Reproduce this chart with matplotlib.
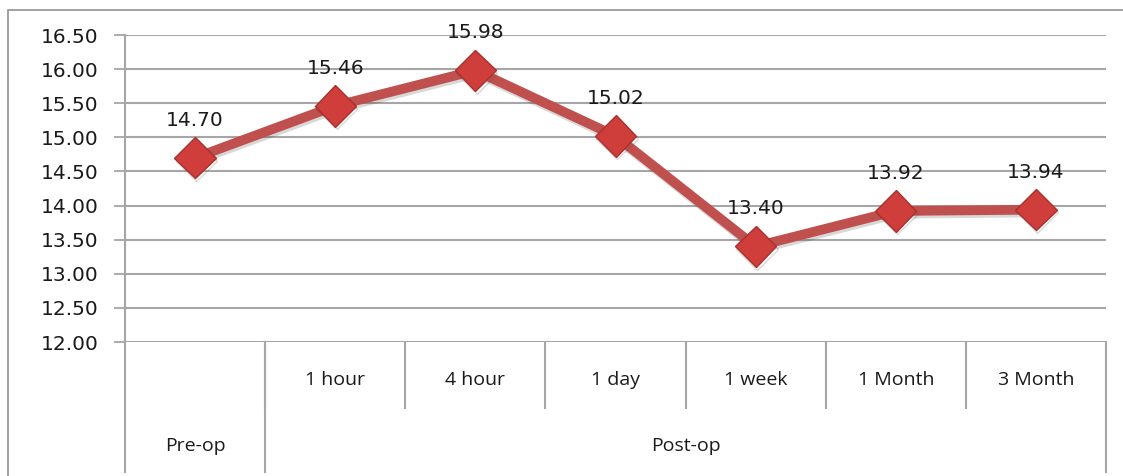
import matplotlib
matplotlib.use('Agg')
import matplotlib.pyplot as plt
import matplotlib.patheffects as pe
from matplotlib.patches import Rectangle

# data
periods = ['Pre-op', '1 hour', '4 hour', '1 day', '1 week', '1 Month', '3 Month']
groups = ['Pre-op', 'Post-op']
group_sizes = [1, 6]
values = [14.70, 15.46, 15.98, 15.02, 13.40, 13.92, 13.94]
yticks = [12.0, 12.5, 13.0, 13.5, 14.0, 14.5, 15.0, 15.5, 16.0, 16.5]

line_color = '#C0504D'
grid_color = '#A6A6A6'
text_color = '#1A1A1A'

fig = plt.figure(figsize=(11.23, 4.76), dpi=100)
ax = fig.add_axes([125 / 1123, (476 - 342) / 476, (1106 - 125) / 1123, (342 - 35) / 476])

# outer chart frame
fig.patches.append(Rectangle((8 / 1123, -0.1), 1.2, (476 - 10) / 476 + 0.1,
                             transform=fig.transFigure, fill=False,
                             edgecolor='#9A9A9A', linewidth=1.3))

x = list(range(len(values)))
ax.plot(x, values, color=line_color, linewidth=7.0, marker='D', markersize=21,
        markerfacecolor='#CF3E3B', markeredgecolor='#A8302D', markeredgewidth=1.0,
        solid_joinstyle='round', zorder=5,
        path_effects=[pe.SimpleLineShadow(offset=(1, -2), shadow_color='#404040', alpha=0.2),
                      pe.Normal()])

for xi, v in zip(x, values):
    ax.annotate(f'{v:.2f}', (xi, v), xytext=(0, 27), textcoords='offset points',
                ha='center', va='center', fontsize=14.5, color=text_color,
                family='DejaVu Sans', zorder=6)

ax.set_xlim(-0.5, len(values) - 0.5)
ax.set_ylim(12.0, 16.5)
ax.set_yticks(yticks)
ax.set_yticklabels([f'{t:.2f}' for t in yticks], fontsize=14.5, color=text_color)
ax.tick_params(axis='y', length=8, width=1.3, color=grid_color, pad=11)
ax.set_xticks([])
for t in yticks:
    ax.axhline(t, color=grid_color, linewidth=1.5, zorder=1)

for side in ['top', 'right', 'bottom']:
    ax.spines[side].set_visible(False)
ax.spines['left'].set_color(grid_color)
ax.spines['left'].set_linewidth(1.5)

# two-level category axis below the plot
row1, row2 = -0.215, -0.4235
for i in range(1, len(periods)):
    ax.plot([i - 0.5, i - 0.5], [0, row1], color=grid_color, linewidth=1.5,
            clip_on=False, transform=ax.get_xaxis_transform())
for i, p in enumerate(periods):
    if i >= group_sizes[0]:
        ax.text(i, -0.124, p, transform=ax.get_xaxis_transform(), ha='center',
                va='center', fontsize=14, color=text_color, family='Open Sans')

start = -0.5
for g, n in zip(groups, group_sizes):
    end = start + n
    ax.plot([start, start], [0, row2], color=grid_color, linewidth=1.5,
            clip_on=False, transform=ax.get_xaxis_transform())
    ax.text((start + end) / 2, -0.339, g, transform=ax.get_xaxis_transform(),
            ha='center', va='center', fontsize=14, color=text_color, family='Open Sans')
    start = end
ax.plot([start, start], [0, row2], color=grid_color, linewidth=1.5,
        clip_on=False, transform=ax.get_xaxis_transform())

fig.savefig('out.png', dpi=100)
